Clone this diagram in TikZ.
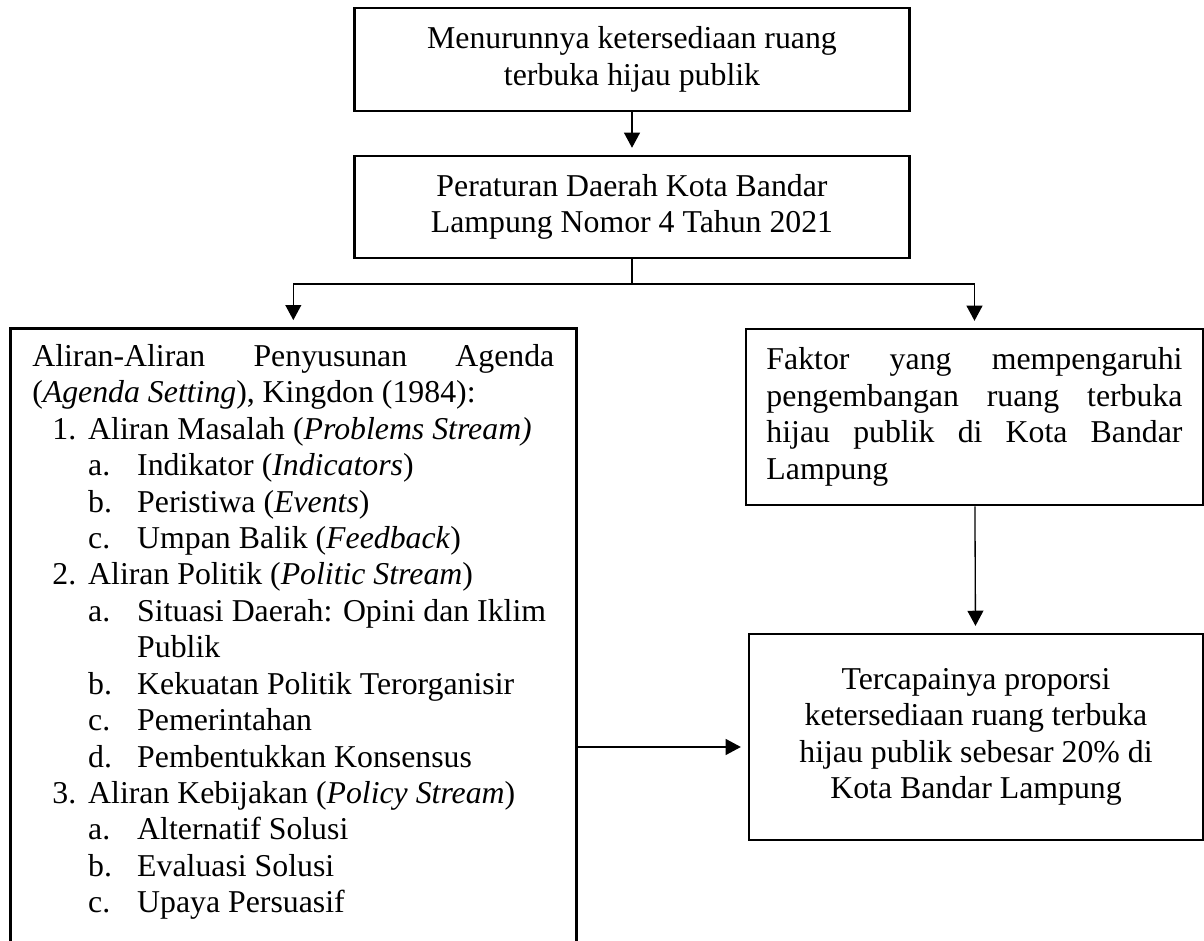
\documentclass[tikz,border=0pt]{standalone}
\usepackage{fontspec}
\setmainfont{Liberation Serif}
\usepackage{enumitem}
\usetikzlibrary{arrows.meta,calc}
\setlist[enumerate,1]{label=\arabic*., leftmargin=21.1pt, labelsep=4.5pt, itemsep=0pt, topsep=0pt, parsep=0pt, partopsep=0pt}
\setlist[enumerate,2]{label=\alph*., leftmargin=18.5pt, labelwidth=18.5pt, labelsep=0pt, align=left, itemsep=0pt, topsep=0pt, parsep=0pt, partopsep=0pt}
\tikzset{
  kotak/.style={draw, line width=1pt, inner sep=0pt, font={\fontsize{12}{13.75}\selectfont\tolerance=10000\hyphenpenalty=10000}},
  panah/.style={-{Triangle[width=6pt,length=5.7pt]}, line width=0.5pt, shorten >=2.6pt},
  garis/.style={line width=0.5pt}
}
\begin{document}
\begin{tikzpicture}[x=0.3774pt, y=-0.3774pt]
\useasboundingbox (0,0) rectangle (1204,941);
\clip (0,0) rectangle (1204,941);
% kotak atas
\node[kotak, minimum width=209.5pt, minimum height=38.9pt, align=center] (isu) at (632,59.5)
  {Menurunnya ketersediaan ruang\\terbuka hijau publik};
\node[kotak, minimum width=209.5pt, minimum height=38.5pt, align=center] (perda) at (632,207)
  {Peraturan Daerah Kota Bandar\\Lampung Nomor 4 Tahun 2021};
% kotak kiri
\node[kotak, anchor=north west, text width=197pt, inner xsep=8.3pt, inner ysep=6pt, align=justify] (agenda) at (9,327) {%
Aliran-Aliran Penyusunan Agenda\linebreak (\textit{Agenda Setting}), Kingdon (1984):
\begin{enumerate}
\item Aliran Masalah (\textit{Problems Stream)}
  \begin{enumerate}
  \item Indikator (\textit{Indicators})
  \item Peristiwa (\textit{Events})
  \item Umpan Balik (\textit{Feedback})
  \end{enumerate}
\item Aliran Politik (\textit{Politic Stream})
  \begin{enumerate}
  \item Situasi Daerah: Opini dan Iklim\newline Publik
  \item Kekuatan Politik Terorganisir
  \item Pemerintahan
  \item Pembentukkan Konsensus
  \end{enumerate}
\item Aliran Kebijakan (\textit{Policy Stream})
  \begin{enumerate}
  \item Alternatif Solusi
  \item Evaluasi Solusi
  \item Upaya Persuasif
  \end{enumerate}
\end{enumerate}
\par\rule{0pt}{20pt}};
% kotak kanan
\node[kotak, minimum width=172.5pt, minimum height=66.4pt, text width=157pt, inner xsep=7.75pt, align=justify] (faktor) at (974.5,417)
  {Faktor yang mempengaruhi\linebreak pengembangan ruang terbuka\linebreak hijau publik di Kota Bandar\linebreak Lampung};
\node[kotak, minimum width=171.3pt, minimum height=77.7pt, align=center] (target) at (976,737)
  {Tercapainya proporsi\\ketersediaan ruang terbuka\\hijau publik sebesar 20\% di\\Kota Bandar Lampung};
% panah
\coordinate (cabang) at (perda.south |- 0,284);
\draw[panah] (isu) -- (perda);
\draw[garis] (perda.south) -- (cabang);
\draw[panah] (cabang) -| (agenda.north);
\draw[panah] (cabang) -| (faktor.north);
\draw[panah] (faktor) -- (target);
\draw[panah] (agenda.east |- 0,747) -- (target.west |- 0,747);
\end{tikzpicture}
\end{document}
